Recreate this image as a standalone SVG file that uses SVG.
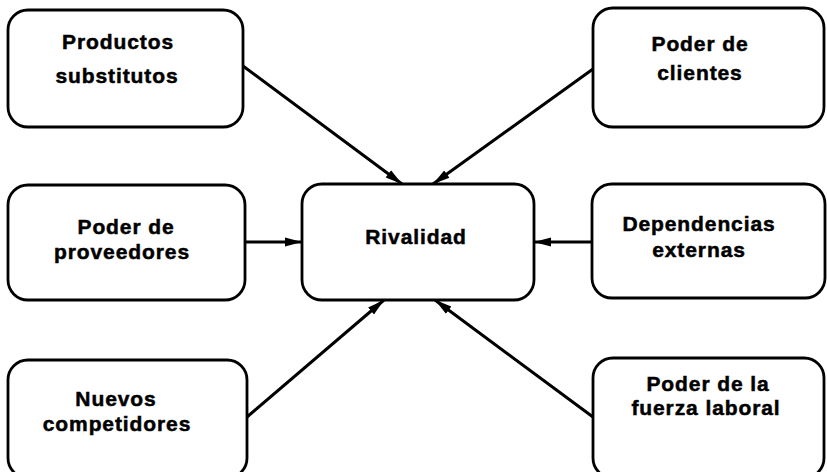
<svg xmlns="http://www.w3.org/2000/svg" width="827" height="472" viewBox="0 0 827 472">
<style>
.box{fill:#fff;stroke:#000;stroke-width:2.8}
.t{font-family:"Liberation Sans",Arial,sans-serif;font-weight:bold;font-size:21px;letter-spacing:0.9px;text-anchor:middle;fill:#000;stroke:#000;stroke-width:0.5}
.c{stroke:#000;stroke-width:3;fill:none;marker-end:url(#ah)}
</style>
<defs>
<marker id="ah" markerWidth="18" markerHeight="12" refX="17" refY="6" orient="auto" markerUnits="userSpaceOnUse">
<path d="M0,1.5 L17,6 L0,10.5 Z" fill="#000"/>
</marker>
</defs>
<rect width="827" height="472" fill="#fff"/>
<g id="connectors">
<line class="c" x1="243" y1="66" x2="402" y2="184"/>
<line class="c" x1="593" y1="69" x2="433" y2="184"/>
<line class="c" x1="245" y1="242" x2="302" y2="242"/>
<line class="c" x1="592" y1="242" x2="534" y2="242"/>
<line class="c" x1="247" y1="417" x2="384" y2="300"/>
<line class="c" x1="593" y1="417" x2="435" y2="300"/>
</g>
<g id="productos">
<rect class="box" x="8" y="10" width="235" height="117" rx="20"/>
<text class="t" x="118" y="49">Productos</text>
<text class="t" x="117" y="83">substitutos</text>
</g>
<g id="clientes">
<rect class="box" x="593" y="8" width="231" height="119" rx="20"/>
<text class="t" x="700" y="51">Poder de</text>
<text class="t" x="700" y="80">clientes</text>
</g>
<g id="proveedores">
<rect class="box" x="8" y="185" width="237" height="115" rx="20"/>
<text class="t" x="126" y="234">Poder de</text>
<text class="t" x="122" y="259">proveedores</text>
</g>
<g id="rivalidad">
<rect class="box" x="302" y="184" width="232" height="116" rx="20"/>
<text class="t" x="416" y="244">Rivalidad</text>
</g>
<g id="dependencias">
<rect class="box" x="592" y="184" width="233" height="114" rx="20"/>
<text class="t" x="699" y="231">Dependencias</text>
<text class="t" x="699" y="257">externas</text>
</g>
<g id="nuevos">
<rect class="box" x="8" y="360" width="239" height="118" rx="20"/>
<text class="t" x="116" y="406">Nuevos</text>
<text class="t" x="117" y="431">competidores</text>
</g>
<g id="fuerza">
<rect class="box" x="593" y="358" width="231" height="120" rx="20"/>
<text class="t" x="708" y="391">Poder de la</text>
<text class="t" x="706" y="415">fuerza laboral</text>
</g>
</svg>
